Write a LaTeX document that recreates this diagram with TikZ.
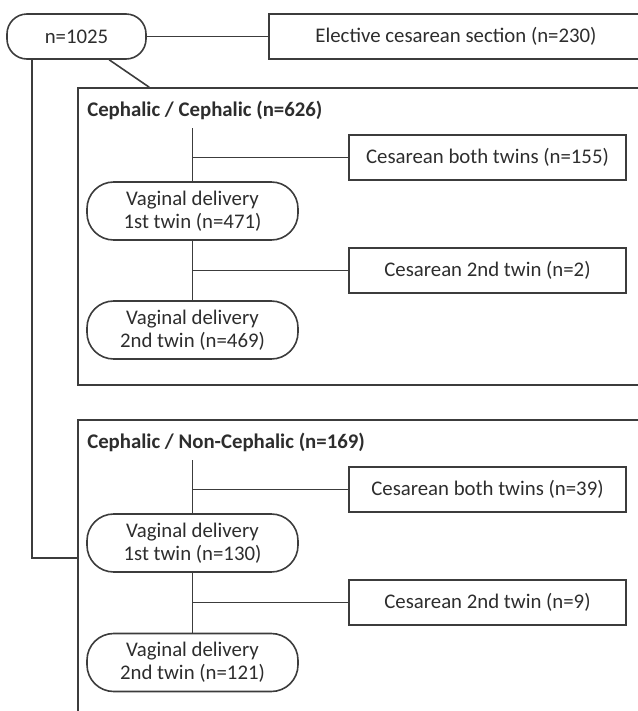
\documentclass[tikz,border=0pt]{standalone}
\usepackage{fontspec}
\setmainfont{Carlito}
\usepackage{xcolor}
\usepackage{tikz}
\usetikzlibrary{calc}
\definecolor{flowline}{RGB}{60,60,60}
\definecolor{flowtext}{RGB}{45,45,45}

\begin{document}
\begin{tikzpicture}[x=0.75pt,y=-0.75pt,
    every node/.style={text=flowtext, font=\fontsize{15.6}{17.5}\selectfont},
    link/.style={draw=flowline, line width=1.2pt},
    outcome/.style={link, minimum width=207.75pt, minimum height=33.75pt, inner sep=0pt},
    vaginal/.style={link, rounded corners=20pt, minimum width=158.25pt, minimum height=43.5pt, align=center, inner sep=0pt},
    start/.style={link, rounded corners=15pt, minimum width=104.25pt, minimum height=33.75pt, inner sep=0pt},
    panel/.style={link, minimum width=436.5pt, inner sep=0pt},
    heading/.style={font=\fontsize{15.6}{17.5}\selectfont\bfseries, anchor=west, inner sep=0pt}]
    \clip (0,0) rectangle (638,711);

    % top row
    \node[start] (total) at (76.5,36.5) {n=1025};
    \node[outcome, minimum width=280.5pt] (elective) at (456,36.5) {Elective cesarean section (n=230)};
    \draw[link] (total) -- (elective);

    % cephalic / cephalic
    \node[panel, minimum height=222.75pt] (ccbox) at (369,236.5) {};
    \node[heading] (cctitle) at (87,110) {Cephalic / Cephalic (n=626)};
    \coordinate (cctop) at (192.5,128);
    \node[outcome] (ccboth) at (487.5,157.5) {Cesarean both twins (n=155)};
    \node[vaginal] (ccfirst) at (192.5,211) {Vaginal delivery\\1st twin (n=471)};
    \node[outcome] (ccsecond) at (487.5,270.5) {Cesarean 2nd twin (n=2)};
    \node[vaginal] (ccvag) at (192.5,330) {Vaginal delivery\\2nd twin (n=469)};
    \draw[link] (cctop) -- (ccfirst);
    \draw[link] (ccboth.west) -- (ccboth.west -| cctop);
    \draw[link] (ccfirst) -- (ccvag);
    \draw[link] (ccsecond.west) -- (ccsecond.west -| ccfirst.south);

    % cephalic / non-cephalic
    \node[panel, minimum height=240pt] (ncbox) at (369,580) {};
    \node[heading] (nctitle) at (87,442) {Cephalic / Non-Cephalic (n=169)};
    \coordinate (nctop) at (192.5,460);
    \node[outcome] (ncboth) at (487.5,489.5) {Cesarean both twins (n=39)};
    \node[vaginal] (ncfirst) at (192.5,543) {Vaginal delivery\\1st twin (n=130)};
    \node[outcome] (ncsecond) at (487.5,602.5) {Cesarean 2nd twin (n=9)};
    \node[vaginal] (ncvag) at (192.5,662.5) {Vaginal delivery\\2nd twin (n=121)};
    \draw[link] (nctop) -- (ncfirst);
    \draw[link] (ncboth.west) -- (ncboth.west -| nctop);
    \draw[link] (ncfirst) -- (ncvag);
    \draw[link] (ncsecond.west) -- (ncsecond.west -| ncfirst.south);

    % from the total into the panels
    \draw[link] ($(total.south west)+(103,0)$) -- ($(ccbox.north west)+(72,0)$);
    \draw[link] ($(total.south west)+(26,0)$) |- ($(ncbox.north west)+(0,139)$);
\end{tikzpicture}
\end{document}
